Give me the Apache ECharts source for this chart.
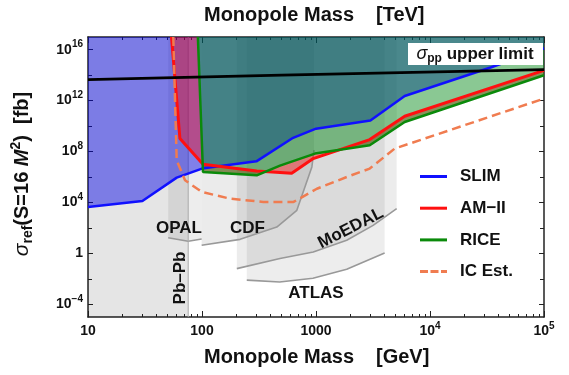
<!DOCTYPE html>
<html>
<head>
<meta charset="utf-8">
<script src="https://cdn.jsdelivr.net/npm/echarts/dist/echarts.min.js"></script>
<style>
  html, body { margin: 0; padding: 0; background: #fff; }
  #chart { width: 569px; height: 375px; }
</style>
</head>
<body>
<div id="chart"></div>
<script>
// monopole mass in GeV, sigma_ref in fb
const slimMass = [10, 30, 60, 100, 300, 630, 1000, 3000, 6000, 34000, 100000]
const slimSigma = [4.4e3, 1.3e4, 8.9e5, 4.6e6, 1.7e7, 1.2e9, 6.3e9, 2.8e10, 2.3e12, 4.0e14, 1.3e16]

const amMass = [54, 64, 102, 302, 612, 946, 2960, 6000, 100000]
const amSigma = [1e17, 1.05e9, 1.0e7, 2.95e6, 2.0e6, 2.8e7, 8.7e8, 5.9e10, 2.4e14]

const riceMass = [92, 102, 302, 483, 980, 2960, 6000, 100000]
const riceSigma = [1e17, 2.5e6, 1.35e6, 7.9e6, 6.9e7, 3.1e8, 2.1e10, 9.8e13]

const icMass = [56, 60, 71, 100, 176, 345, 636, 1018, 1860, 2960, 4900, 100000]
const icSigma = [1e17, 2.0e7, 5.5e5, 6.6e4, 2.0e4, 1.1e4, 1.1e4, 1.2e5, 1.0e6, 4.6e6, 1.7e8, 1.45e12]

const ppMass = [10, 500, 100000]
const ppSigma = [4.5e13, 1.0e14, 2.75e14]

// collider limits (gray)
const opalMass = [50.5, 75.7, 99.3]
const opalSigma = [17, 8.9, 13.5]
const cdfMass = [99.3, 216, 453, 679, 920, 960]
const cdfSigma = [4.3, 12.6, 117, 2400, 6.2e6, 1.3e8]
const moedalMass = [202, 483, 946, 1860, 3170, 5100]
const moedalSigma = [0.063, 0.39, 1.3, 10.7, 158, 3300]
const atlasMass = [247, 480, 940, 1860, 4000]
const atlasSigma = [7.9e-3, 5.6e-3, 1.1e-2, 5.6e-2, 1.07]
const pbpbMass = 75.7

// axes
const xMin = 10
const xMax = 1e5
const yMin = 1e-5
const yMax = 1e17
const xMajorTicks = [10, 100, 1000, 1e4, 1e5]
const topMajorTicks = [0.01, 0.1, 1, 10, 100]
const yLabelTicks = [1e-4, 1, 1e4, 1e8, 1e12, 1e16]
const yMinorTicks = [1e-2, 1e2, 1e6, 1e10, 1e14]

const xMinorTicks = []
const topMinorTicks = []
for (let d = 10; d < xMax; d *= 10) {
    for (let k = 2; k <= 9; k++) {
        xMinorTicks.push(k * d)
        topMinorTicks.push(k * d / 1000)
    }
}

const FONT = 'Liberation Sans, Arial, sans-serif'
const pts = (m, s) => m.map((v, i) => [v, s[i]])
const toTop = p => p.concat([[p[p.length - 1][0], yMax], [p[0][0], yMax]])

const slim = pts(slimMass, slimSigma)
const am = pts(amMass, amSigma)
const rice = pts(riceMass, riceSigma)
const ic = pts(icMass, icSigma)
const pp = pts(ppMass, ppSigma)
const opal = pts(opalMass, opalSigma)
const cdf = pts(cdfMass, cdfSigma)
const moedal = pts(moedalMass, moedalSigma)
const atlas = pts(atlasMass, atlasSigma)

function areaSeries (poly, color, z) {
    return {
        type: 'custom',
        silent: true,
        z: z,
        clip: true,
        data: poly,
        renderItem: function (params, api) {
            if (params.dataIndex !== 0) return
            return {
                type: 'polygon',
                shape: { points: poly.map(p => api.coord(p)) },
                style: { fill: color }
            }
        }
    }
}

function lineSeries (name, data, color, width, z, dashed) {
    return {
        name: name,
        type: 'line',
        data: data,
        symbol: 'none',
        silent: true,
        z: z,
        color: color,
        lineStyle: { color: color, width: width, type: dashed ? [9, 5] : 'solid' }
    }
}

function powLabel (v) {
    const n = Math.round(Math.log10(v))
    if (n === 0) return '1'
    if (n >= 1 && n <= 3) return String(Math.round(v))
    return '10{sup|' + (n < 0 ? '\u2212' + (-n) : n) + '}'
}

const labelRich = { sup: { fontSize: 10, fontWeight: 'bold', fontFamily: FONT, color: '#111', verticalAlign: 'top', lineHeight: 10 } }

function axisBase (position, min, max) {
    return {
        type: 'log',
        position: position,
        min: min,
        max: max,
        splitLine: { show: false },
        axisLine: { show: false },
        axisLabel: { show: false },
        axisTick: { show: false }
    }
}

function ticked (ax, ticks, len, lineOn, labelOn, margin) {
    ax.axisTick = { show: true, inside: true, length: len, customValues: ticks, lineStyle: { color: '#222', width: 1 } }
    if (lineOn) ax.axisLine = { show: true, lineStyle: { color: '#222', width: 1.5 } }
    if (labelOn) {
        ax.axisLabel = {
            show: true, customValues: ticks, formatter: powLabel, margin: margin,
            fontSize: 14, fontWeight: 'bold', fontFamily: FONT, color: '#111', lineHeight: 20, rich: labelRich
        }
    }
    return ax
}

const chart = echarts.init(document.getElementById('chart'))

const option = {
    animation: false,
    backgroundColor: '#fff',
    grid: { left: 88, right: 25, top: 37, bottom: 58 },
    xAxis: [
        ticked(axisBase('bottom', xMin, xMax), xMajorTicks, 6, true, true, 4),
        ticked(axisBase('bottom', xMin, xMax), xMinorTicks, 3, false, false),
        ticked(axisBase('top', xMin / 1000, xMax / 1000), topMajorTicks, 6, true, false),
        ticked(axisBase('top', xMin / 1000, xMax / 1000), topMinorTicks, 3, false, false)
    ],
    yAxis: [
        ticked(axisBase('left', yMin, yMax), yLabelTicks, 5, true, true, 5),
        ticked(axisBase('left', yMin, yMax), yMinorTicks, 4, false, false),
        ticked(axisBase('right', yMin, yMax), yLabelTicks, 5, true, false),
        ticked(axisBase('right', yMin, yMax), yMinorTicks, 4, false, false)
    ],
    legend: {
        orient: 'vertical',
        left: 420,
        top: 168,
        padding: 0,
        itemWidth: 27,
        itemHeight: 3,
        itemGap: 14.7,
        selectedMode: false,
        itemStyle: { borderWidth: 0 },
        textStyle: { fontSize: 17, fontWeight: 'bold', fontFamily: FONT, color: '#111', padding: [0, 0, 0, 8] },
        data: [
            { name: 'SLIM', icon: 'rect' },
            { name: 'AM\u2212II', icon: 'rect' },
            { name: 'RICE', icon: 'rect' },
            { name: 'IC Est.', icon: 'path://M0 0h8v3h-8zM10.5 0h8v3h-8zM21 0h6v3h-6z' }
        ]
    },
    series: [
        // collider regions
        areaSeries([[xMin, yMin], [pbpbMass, yMin], [pbpbMass, yMax], [xMin, yMax]], 'rgba(0,0,0,0.1)', 1),
        areaSeries(toTop(opal), 'rgba(0,0,0,0.07)', 1),
        areaSeries(toTop(cdf), 'rgba(0,0,0,0.08)', 1),
        areaSeries(toTop(moedal), 'rgba(0,0,0,0.075)', 1),
        areaSeries(toTop(atlas), 'rgba(0,0,0,0.07)', 1),
        lineSeries(null, opal, '#999', 1.6, 2),
        lineSeries(null, cdf, '#999', 1.6, 2),
        lineSeries(null, moedal, '#999', 1.6, 2),
        lineSeries(null, atlas, '#999', 1.6, 2),
        lineSeries(null, [[pbpbMass, yMin], [pbpbMass, yMax]], '#aaa', 1, 2),
        // experiment exclusion regions
        areaSeries(toTop(slim), 'rgba(0,0,228,0.46)', 3),
        areaSeries(am.concat(rice.slice().reverse()), 'rgba(255,0,0,0.4)', 3),
        areaSeries(toTop(rice), 'rgba(0,135,20,0.46)', 3),
        lineSeries('SLIM', slim, '#1010ff', 2.5, 4),
        lineSeries('AM\u2212II', am, '#ff1010', 3, 4),
        lineSeries('RICE', rice, '#0a8a0a', 2.5, 4),
        lineSeries('IC Est.', ic, '#f07c50', 2.5, 4, true),
        lineSeries(null, pp, '#000', 2.8, 5)
    ],
    graphic: [
        { type: 'text', x: 279, y: 15, z: 100, style: { text: 'Monopole Mass', fontSize: 20, fontWeight: 'bold', fontFamily: FONT, fill: '#111', align: 'center', verticalAlign: 'middle' } },
        { type: 'text', x: 376, y: 15, z: 100, style: { text: '[TeV]', fontSize: 20, fontWeight: 'bold', fontFamily: FONT, fill: '#111', align: 'left', verticalAlign: 'middle' } },
        { type: 'text', x: 279, y: 357, z: 100, style: { text: 'Monopole Mass', fontSize: 20, fontWeight: 'bold', fontFamily: FONT, fill: '#111', align: 'center', verticalAlign: 'middle' } },
        { type: 'text', x: 376, y: 357, z: 100, style: { text: '[GeV]', fontSize: 20, fontWeight: 'bold', fontFamily: FONT, fill: '#111', align: 'left', verticalAlign: 'middle' } },
        {
            type: 'text', x: 22, y: 174, rotation: Math.PI / 2, z: 100,
            style: {
                text: '{s|\u03c3}{sub|ref}{n|(S=16 }{m|M}{sup|2}{n|)  [fb]}',
                align: 'center', verticalAlign: 'middle', fill: '#111',
                rich: {
                    s: { fontSize: 21, fontStyle: 'italic', fontFamily: FONT, lineHeight: 26, fill: '#111' },
                    n: { fontSize: 20, fontWeight: 'bold', fontFamily: FONT, lineHeight: 26, fill: '#111' },
                    m: { fontSize: 20, fontWeight: 'bold', fontStyle: 'italic', fontFamily: FONT, lineHeight: 26, fill: '#111' },
                    sub: { fontSize: 14, fontWeight: 'bold', fontFamily: FONT, lineHeight: 14, verticalAlign: 'bottom', fill: '#111' },
                    sup: { fontSize: 14, fontWeight: 'bold', fontFamily: FONT, lineHeight: 14, verticalAlign: 'top', fill: '#111' }
                }
            }
        },
        { type: 'rect', z: 90, shape: { x: 408, y: 43, width: 135, height: 22 }, style: { fill: '#fff' } },
        {
            type: 'text', x: 475, y: 54, z: 100,
            style: {
                text: '{s|\u03c3}{sub|pp}{n| upper limit}',
                align: 'center', verticalAlign: 'middle', fill: '#111',
                rich: {
                    s: { fontSize: 18, fontStyle: 'italic', fontFamily: FONT, lineHeight: 22, fill: '#111' },
                    n: { fontSize: 17, fontWeight: 'bold', fontFamily: FONT, lineHeight: 22, fill: '#111' },
                    sub: { fontSize: 12, fontWeight: 'bold', fontFamily: FONT, lineHeight: 12, verticalAlign: 'bottom', fill: '#111' }
                }
            }
        },
        { type: 'text', x: 179, y: 228, z: 100, style: { text: 'OPAL', fontSize: 17, fontWeight: 'bold', fontFamily: FONT, fill: '#111', align: 'center', verticalAlign: 'middle' } },
        { type: 'text', x: 247.5, y: 228, z: 100, style: { text: 'CDF', fontSize: 17, fontWeight: 'bold', fontFamily: FONT, fill: '#111', align: 'center', verticalAlign: 'middle' } },
        { type: 'text', x: 350.7, y: 228.3, rotation: 27 * Math.PI / 180, z: 100, style: { text: 'MoEDAL', fontSize: 17, fontWeight: 'bold', fontFamily: FONT, fill: '#111', align: 'center', verticalAlign: 'middle' } },
        { type: 'text', x: 316, y: 293, z: 100, style: { text: 'ATLAS', fontSize: 17, fontWeight: 'bold', fontFamily: FONT, fill: '#111', align: 'center', verticalAlign: 'middle' } },
        { type: 'text', x: 180, y: 278, rotation: Math.PI / 2, z: 100, style: { text: 'Pb\u2013Pb', fontSize: 17, fontWeight: 'bold', fontFamily: FONT, fill: '#111', align: 'center', verticalAlign: 'middle' } }
    ]
}

chart.setOption(option)
</script>
</body>
</html>
